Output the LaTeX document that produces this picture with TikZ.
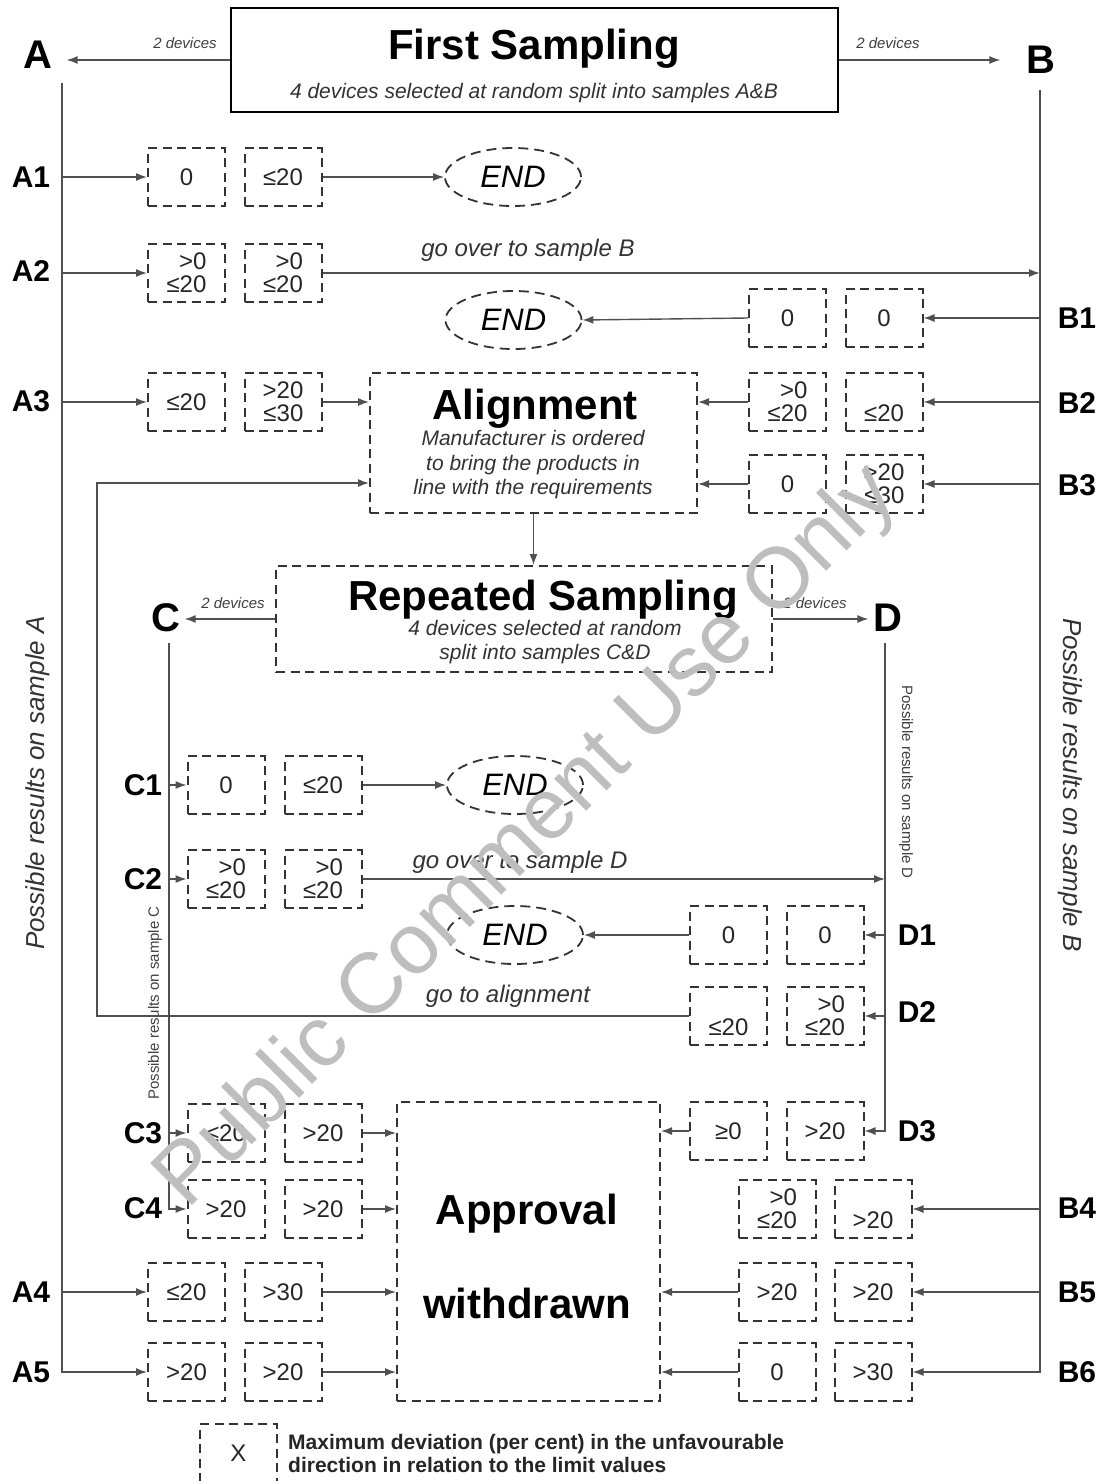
\documentclass[tikz,border=0pt]{standalone}
\usepackage{fontspec}
\setmainfont{Liberation Sans}
\usetikzlibrary{arrows.meta,shapes.geometric}
\definecolor{lc}{HTML}{505050}
\definecolor{bc}{HTML}{333333}
\definecolor{wm}{HTML}{BEBEBE}
\tikzset{
  conn/.style={draw=lc, line width=1.4pt},
  arr/.style={conn, -{Latex[length=11pt,width=8pt]}},
  dashbox/.style={draw=bc, line width=2pt, dash pattern=on 9pt off 5.5pt, inner sep=0pt},
  vbox/.style={dashbox, minimum width=77pt, minimum height=58pt, align=right, font=\fontsize{24}{23}\selectfont, text=black!85},
  endnode/.style={ellipse, draw=bc, line width=1.8pt, dash pattern=on 10pt off 6pt, minimum width=136pt, minimum height=58pt, inner sep=0pt, font=\itshape\fontsize{31}{33}\selectfont},
  ttl/.style={font=\bfseries\fontsize{42}{44}\selectfont, inner sep=0pt, anchor=base},
  sub/.style={font=\itshape\fontsize{21}{24.5}\selectfont, align=center, inner sep=0pt, text=black!80},
  biglab/.style={font=\bfseries\fontsize{40}{42}\selectfont, inner sep=0pt},
  rowlab/.style={font=\bfseries\fontsize{30}{32}\selectfont, inner sep=0pt},
  small/.style={font=\itshape\fontsize{15}{17}\selectfont, inner sep=0pt, text=black!75},
  note/.style={font=\itshape\fontsize{24}{26}\selectfont, inner sep=0pt, text=black!80},
}
\begin{document}
\begin{tikzpicture}[x=1pt,y=-1pt]
\fill[white] (0,0) rectangle (1106,1481);
\useasboundingbox (0,0) rectangle (1106,1481);

% ---- First sampling
\node[draw=black, line width=2.5pt, minimum width=607pt, minimum height=104pt, inner sep=0pt] (fs) at (534.5,60) {};
\node[ttl] (fst) at (534,59) {First Sampling};
\node[sub] (fss) at (534,93) {4 devices selected at random split into samples A\&B};
\node[biglab] (A) at (38,55) {A};
\node[biglab] (B) at (1041,60) {B};
\node[small] (fsa) at (185,43) {2 devices};
\node[small] (fsb) at (888,43) {2 devices};
\draw[arr, shorten >=14pt] (fs.west) -- (fs.west -| A.east);
\draw[arr, shorten >=26pt] (fs.east) -- (fs.east -| B.west);

\coordinate (aTop) at (62,83);
\coordinate (bTop) at (1040,90);
\coordinate (cTop) at (169,643);
\coordinate (dTop) at (885,643);

% ---- A rows
\node[vbox] (a1l) at (186.5,177) {0};
\node[vbox] (a1r) at (283,177) {≤20};
\node[vbox] (a2l) at (186.5,273) {>0\\≤20};
\node[vbox] (a2r) at (283,273) {>0\\≤20};
\node[vbox] (a3l) at (186.5,402) {≤20};
\node[vbox] (a3r) at (283,402) {>20\\≤30};
\node[vbox] (a4l) at (186.5,1292) {≤20};
\node[vbox] (a4r) at (283,1292) {>30};
\node[vbox] (a5l) at (186.5,1372) {>20};
\node[vbox] (a5r) at (283,1372) {>20};
\node[rowlab] (la1) at (31,177) {A1};
\node[rowlab] (la2) at (31,271) {A2};
\node[rowlab] (la3) at (31,401) {A3};
\node[rowlab] (la4) at (31,1292) {A4};
\node[rowlab] (la5) at (31,1372) {A5};

% ---- B rows
\node[vbox] (b1l) at (787.5,318) {0};
\node[vbox] (b1r) at (884,318) {0};
\node[vbox] (b2l) at (787.5,402) {>0\\≤20};
\node[vbox] (b2r) at (884,402) {\phantom{>0}\\≤20};
\node[vbox] (b3l) at (787.5,484) {0};
\node[vbox] (b3r) at (884,484) {>20\\≤30};
\node[vbox] (b4l) at (777,1209) {>0\\≤20};
\node[vbox] (b4r) at (873,1209) {\phantom{>0}\\>20};
\node[vbox] (b5l) at (777,1292) {>20};
\node[vbox] (b5r) at (873,1292) {>20};
\node[vbox] (b6l) at (777,1372) {0};
\node[vbox] (b6r) at (873,1372) {>30};
\node[rowlab] (lb1) at (1077,318) {B1};
\node[rowlab] (lb2) at (1077,403) {B2};
\node[rowlab] (lb3) at (1077,485) {B3};
\node[rowlab] (lb4) at (1077,1208) {B4};
\node[rowlab] (lb5) at (1077,1292) {B5};
\node[rowlab] (lb6) at (1077,1372) {B6};

% ---- END ellipses
\node[endnode] (e1) at (513,177) {END};
\node[endnode] (e2) at (513.5,320) {END};
\node[endnode] (e3) at (515,785) {END};
\node[endnode] (e4) at (515,935) {END};

% ---- Alignment
\node[dashbox, minimum width=327pt, minimum height=140pt] (al) at (533.5,443) {};
\node[ttl] (alt) at (535,419) {Alignment};
\node[sub] (als) at (533,465) {Manufacturer is ordered\\to bring the products in\\line with the requirements};

% ---- Repeated sampling
\node[dashbox, minimum width=496pt, minimum height=106pt] (rs) at (524,619) {};
\node[ttl] (rst) at (543,610) {Repeated Sampling};
\node[sub] (rss) at (545,642) {4 devices selected at random\\split into samples C\&D};
\node[biglab] (C) at (166,618) {C};
\node[biglab] (D) at (888,618) {D};
\node[small] (rsa) at (233,603) {2 devices};
\node[small] (rsb) at (815,603) {2 devices};
\draw[arr, shorten >=4pt] (rs.west) -- (rs.west -| C.east);
\draw[arr, shorten >=5pt] (rs.east) -- (rs.east -| D.west);

% ---- C rows
\node[vbox] (c1l) at (226,785) {0};
\node[vbox] (c1r) at (323,785) {≤20};
\node[vbox] (c2l) at (226,879) {>0\\≤20};
\node[vbox] (c2r) at (323,879) {>0\\≤20};
\node[vbox] (c3l) at (226,1133) {≤20};
\node[vbox] (c3r) at (323,1133) {>20};
\node[vbox] (c4l) at (226,1209) {>20};
\node[vbox] (c4r) at (323,1209) {>20};
\node[rowlab] (lc1) at (143,785) {C1};
\node[rowlab] (lc2) at (143,879) {C2};
\node[rowlab] (lc3) at (143,1133) {C3};
\node[rowlab] (lc4) at (143,1208) {C4};

% ---- D rows
\node[vbox] (d1l) at (728.5,935) {0};
\node[vbox] (d1r) at (825,935) {0};
\node[vbox] (d2l) at (728.5,1016) {\phantom{>0}\\≤20};
\node[vbox] (d2r) at (825,1016) {>0\\≤20};
\node[vbox] (d3l) at (728.5,1131) {≥0};
\node[vbox] (d3r) at (825,1131) {>20};
\node[rowlab] (ld1) at (917,935) {D1};
\node[rowlab] (ld2) at (917,1012) {D2};
\node[rowlab] (ld3) at (917,1131) {D3};

% ---- Approval withdrawn
\node[dashbox, minimum width=263pt, minimum height=299pt] (ap) at (528.5,1251.5) {};
\node[ttl] (apt1) at (527,1224) {Approval};
\node[ttl] (apt2) at (527,1318) {withdrawn};

% ---- texts
\node[note] (gob) at (528,250) {go over to sample B};
\node[note] (god) at (520,862) {go over to sample D};
\node[note] (goa) at (508,996) {go to alignment};
\node[rotate=90, font=\itshape\fontsize{26}{28}\selectfont, text=black!80, inner sep=0pt] (psa) at (38,783) {Possible results on sample A};
\node[rotate=-90, font=\itshape\fontsize{26}{28}\selectfont, text=black!80, inner sep=0pt] (psb) at (1070,785) {Possible results on sample B};
\node[rotate=90, font=\fontsize{15}{17}\selectfont, text=black!75, inner sep=0pt] (psc) at (155,1003) {Possible results on sample C};
\node[rotate=-90, font=\fontsize{15}{17}\selectfont, text=black!75, inner sep=0pt] (psd) at (906,782) {Possible results on sample D};

% ---- spines
\draw[arr] (aTop) |- (a5l.west);
\foreach \n in {a1l,a2l,a3l,a4l} \draw[arr] (aTop |- \n.west) -- (\n.west);
\draw[arr] (bTop) |- (b6r.east);
\foreach \n in {b1r,b2r,b3r,b4r,b5r} \draw[arr] (bTop |- \n.east) -- (\n.east);
\draw[arr] (cTop) |- (c4l.west);
\foreach \n in {c1l,c2l,c3l} \draw[arr] (cTop |- \n.west) -- (\n.west);
\draw[arr] (dTop) |- (d3r.east);
\foreach \n in {d1r,d2r} \draw[arr] (dTop |- \n.east) -- (\n.east);

% ---- flows
\draw[arr] (a1r.east) -- (e1.west);
\draw[arr] (a2r.east) -- (a2r.east -| bTop);
\draw[arr] (b1l.west) -- (e2.east);
\draw[arr] (a3r.east) -- (a3r.east -| al.west);
\draw[arr] (b2l.west) -- (b2l.west -| al.east);
\draw[arr] (b3l.west) -- (b3l.west -| al.east);
\draw[arr] (al.south) -- (al.south |- rs.north);
\draw[arr] (c1r.east) -- (e3.west);
\draw[arr] (c2r.east) -- (c2r.east -| dTop);
\draw[arr] (d1l.west) -- (e4.east);
\coordinate (gx) at (97,483);
\draw[arr] (d2l.west) -| (gx) -- (gx -| al.west);
\draw[arr] (d3l.west) -- (d3l.west -| ap.east);
\draw[arr] (b5l.west) -- (b5l.west -| ap.east);
\draw[arr] (b6l.west) -- (b6l.west -| ap.east);
\draw[arr] (c3r.east) -- (c3r.east -| ap.west);
\draw[arr] (c4r.east) -- (c4r.east -| ap.west);
\draw[arr] (a4r.east) -- (a4r.east -| ap.west);
\draw[arr] (a5r.east) -- (a5r.east -| ap.west);

% ---- legend
\node[vbox, align=center] (leg) at (238.5,1453) {X};
\node[font=\bfseries\fontsize{21}{23}\selectfont, align=left, anchor=west, inner sep=0pt, text=black!85] (legt) at (288,1453) {Maximum deviation (per cent) in the unfavourable\\direction in relation to the limit values};

% ---- watermark
\node[rotate=45, font=\fontsize{86}{86}\selectfont, text=wm, inner sep=0pt] (wmk) at (528,838) {Public Comment Use Only};
\end{tikzpicture}
\end{document}
